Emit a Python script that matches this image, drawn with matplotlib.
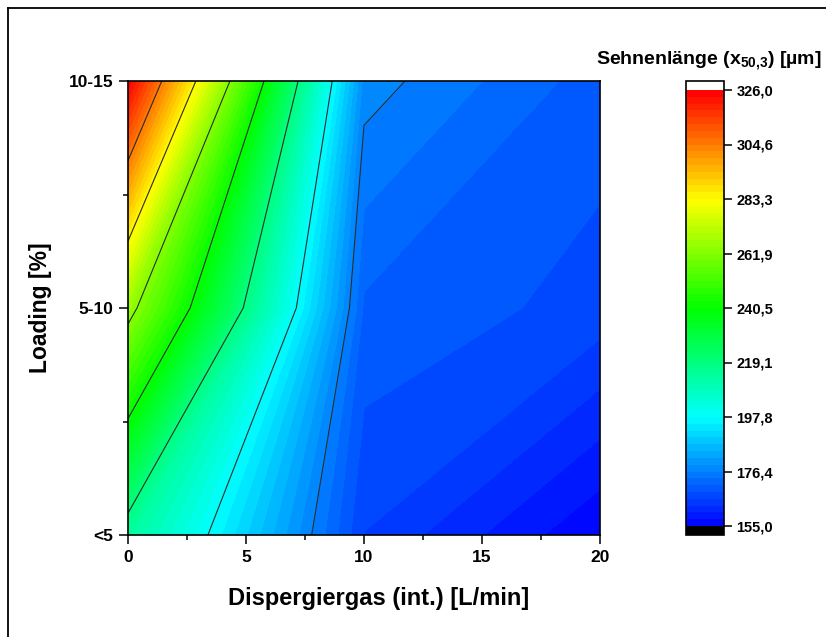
import numpy as np
import matplotlib
matplotlib.use("Agg")
import matplotlib.pyplot as plt
from matplotlib.colors import LinearSegmentedColormap
from matplotlib.lines import Line2D
from matplotlib.ticker import FixedLocator

# ---------------- data ----------------
dispergiergas = [0, 10, 20]                 # L/min
loading_pos = [0, 1, 2]
loading_labels = ["<5", "5-10", "10-15"]
# Sehnenlänge x50,3 [µm], rows: loading <5, 5-10, 10-15 ; cols: dispergiergas 0,10,20
sehnen_lt5 = [214.2, 165.6, 155.2]
sehnen_5_10 = [265.5, 170.5, 167.3]
sehnen_10_15 = [325.8, 177.8, 169.6]

cbar_min, cbar_max = 155.0, 326.0
cbar_tick_labels = ["155,0", "176,4", "197,8", "219,1", "240,5",
                    "261,9", "283,3", "304,6", "326,0"]

# ---------------- style ----------------
plt.rcParams["font.family"] = ["Liberation Sans", "DejaVu Sans"]
plt.rcParams["font.weight"] = "bold"
plt.rcParams["mathtext.fontset"] = "custom"
plt.rcParams["mathtext.rm"] = "Liberation Sans:bold"
plt.rcParams["mathtext.bf"] = "Liberation Sans:bold"
plt.rcParams["mathtext.it"] = "Liberation Sans:bold"

W, H = 826, 637
fig = plt.figure(figsize=(W / 100, H / 100), dpi=100)
fig.patch.set_facecolor("white")

ax = fig.add_axes([128 / W, 1 - 535 / H, 472 / W, 454 / H])
cax = fig.add_axes([686 / W, 1 - 535 / H, 38 / W, 454 / H])

Z = np.array([sehnen_lt5, sehnen_5_10, sehnen_10_15])

cmap = LinearSegmentedColormap.from_list(
    "origin_rainbow", ["#0000ff", "#00ffff", "#00ff00", "#ffff00", "#ff0000"])
cmap.set_over("white")
cmap.set_under("black")

fill_levels = np.linspace(cbar_min, cbar_max, 65)
major_levels = np.linspace(cbar_min, cbar_max, 9)

cf = ax.contourf(dispergiergas, loading_pos, Z, levels=fill_levels, cmap=cmap,
                 extend="both")
cf.set_edgecolor("face")
cf.set_linewidth(0.35)
ax.contour(dispergiergas, loading_pos, Z, levels=major_levels[1:-1],
           colors="#2b2b2b", linewidths=0.8)

ax.set_xlim(0, 20)
ax.set_ylim(0, 2)
ax.set_xticks([0, 5, 10, 15, 20])
ax.set_xticklabels(["0", "5", "10", "15", "20"])
ax.xaxis.set_minor_locator(FixedLocator([2.5, 7.5, 12.5, 17.5]))
ax.set_yticks(loading_pos)
ax.set_yticklabels(loading_labels)
ax.yaxis.set_minor_locator(FixedLocator([0.5, 1.5]))
ax.tick_params(which="major", direction="out", length=6.5, width=1.1,
               labelsize=12.5, pad=4)
ax.tick_params(which="minor", direction="out", length=3.5, width=1.1)
for lab in ax.get_xticklabels() + ax.get_yticklabels():
    lab.set_fontweight("bold")
for sp in ax.spines.values():
    sp.set_linewidth(1.2)
    sp.set_zorder(5)

fig.text(379 / W, 1 - 599 / H, "Dispergiergas (int.) [L/min]", ha="center",
         va="center", fontsize=17, fontweight="bold")
fig.text(41 / W, 1 - 308 / H, "Loading [%]", ha="center", va="center",
         rotation=90, fontsize=16.5, fontweight="bold")

# colorbar
cbar = fig.colorbar(cf, cax=cax, extend="both", extendrect=True,
                    extendfrac=9 / 436)
cbar.set_ticks(major_levels)
cbar.set_ticklabels(cbar_tick_labels)
cbar.ax.minorticks_off()
cbar.ax.tick_params(direction="out", length=6, width=1.1, labelsize=10.5, pad=3)
for lab in cbar.ax.get_yticklabels():
    lab.set_fontweight("bold")
cbar.outline.set_linewidth(1.2)

fig.text(709 / W, 1 - 64 / H, r"Sehnenlänge (x$_{\mathbf{50{,}3}}$) [µm]",
         ha="center", va="baseline", fontsize=14, fontweight="bold")

# figure frame (left/top visible in the crop)
fig.add_artist(Line2D([8 / W, 8 / W], [0, 1 - 8 / H], transform=fig.transFigure,
                      color="black", lw=1.3))
fig.add_artist(Line2D([8 / W, 1], [1 - 8 / H, 1 - 8 / H], transform=fig.transFigure,
                      color="black", lw=1.3))

fig.savefig("out.png", dpi=100)
